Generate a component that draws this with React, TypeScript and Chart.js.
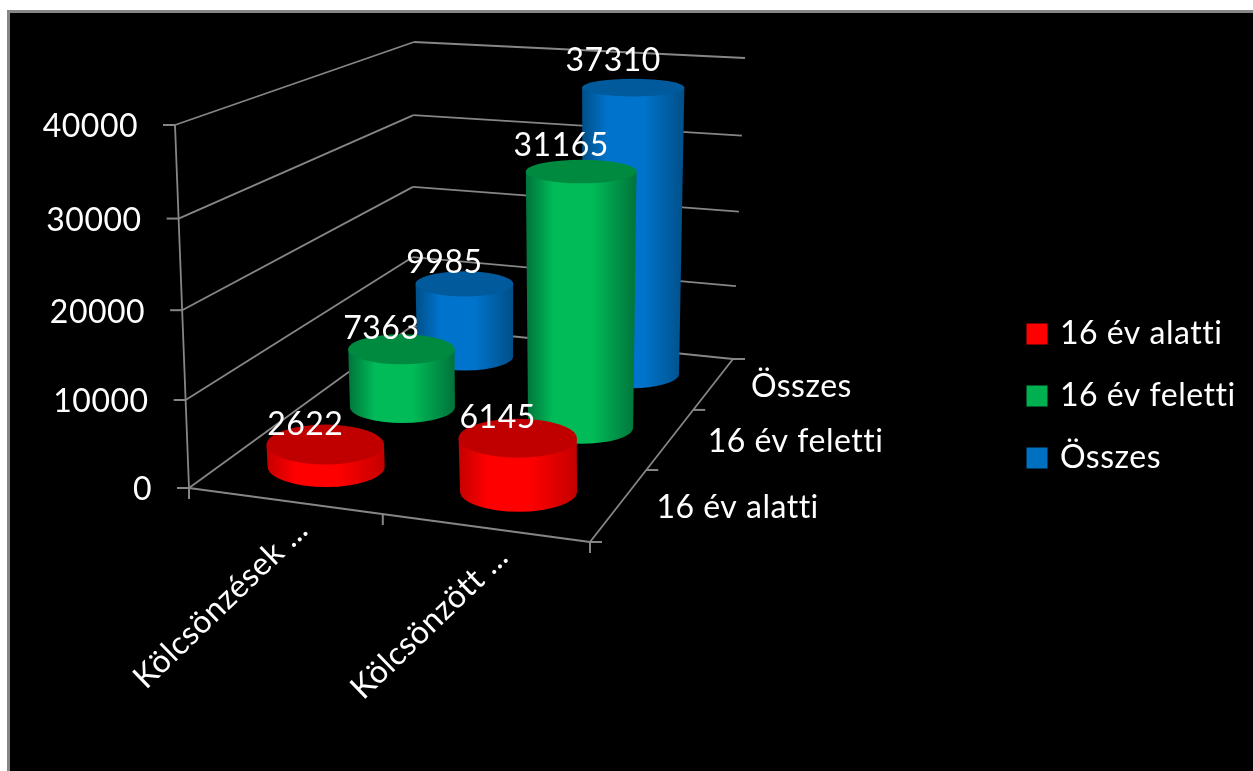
import React, { useEffect, useRef } from "react";
import { Chart, registerables, CategoryScale, LinearScale } from "chart.js";

const categories = ["Kölcsönzések ...", "Kölcsönzött ..."];
const seriesNames = ["16 év alatti", "16 év feletti", "Összes"];
const under16 = [2622, 6145];
const over16 = [7363, 31165];
const total = [9985, 37310];
const seriesValues = [under16, over16, total];
const seriesColors = ["#ff0000", "#00b050", "#0070c0"];
const valueMax = 40000;
const valueStep = 10000;

type P = { x: number; y: number };
const FONT = "Lato";
const FONT_SIZE = 32;
const LINE = "#868686";

// camera: corners of the floor and of the ceiling of the 3D box, as (across, depth)
const FLOOR: P[] = [{ x: 189, y: 488 }, { x: 590, y: 542 }, { x: 733, y: 359 }, { x: 412, y: 326 }];
const CEILING: P[] = [{ x: 175, y: 125 }, { x: 598, y: 170 }, { x: 745, y: 58 }, { x: 414, y: 42 }];
const PERSPECTIVE = -0.04;
const CYL_STYLE = [
  { rx: 58.5, ry: 20.3, dx: 0, edge: "#c40000", mid: "#ff0000", top: "#c00000" },
  { rx: 52.5, ry: 16, dx: 3, edge: "#00733a", mid: "#00bb58", top: "#008a40" },
  { rx: 48, ry: 14, dx: 3.5, edge: "#004f88", mid: "#0074cc", top: "#005a9c" },
];

function homography(q: P[]) {
  const [p0, p1, p2, p3] = q;
  const dx1 = p1.x - p2.x, dx2 = p3.x - p2.x, sx = p0.x - p1.x + p2.x - p3.x;
  const dy1 = p1.y - p2.y, dy2 = p3.y - p2.y, sy = p0.y - p1.y + p2.y - p3.y;
  const den = dx1 * dy2 - dx2 * dy1;
  const g = (sx * dy2 - dx2 * sy) / den;
  const h = (dx1 * sy - sx * dy1) / den;
  const a = p1.x - p0.x + g * p1.x, b = p3.x - p0.x + h * p3.x, c = p0.x;
  const d = p1.y - p0.y + g * p1.y, e = p3.y - p0.y + h * p3.y, f = p0.y;
  return (u: number, v: number): P => {
    const w = g * u + h * v + 1;
    return { x: (a * u + b * v + c) / w, y: (d * u + e * v + f) / w };
  };
}
const floorAt = homography(FLOOR);
const ceilingAt = homography(CEILING);
function project(u: number, v: number, f: number): P {
  const a = floorAt(u, v), b = ceilingAt(u, v);
  return { x: a.x + (b.x - a.x) * f, y: a.y + (b.y - a.y) * f };
}

class ProjectedLinearScale extends LinearScale {
  static id = "projectedLinear";
  static defaults = LinearScale.defaults;
  getPixelForValue(value: number) {
    const t = value / valueMax;
    const s = (t * (1 + PERSPECTIVE)) / (1 + PERSPECTIVE * t);
    return this.bottom - s * this.height;
  }
  heightFraction(value: number) {
    return (this.bottom - this.getPixelForValue(value)) / this.height;
  }
  _computeLabelItems(area: any) {
    const items = super._computeLabelItems(area);
    items.forEach((it: any, i: number) => {
      const f = this.heightFraction(this.ticks[i].value);
      it.options.translation = [project(0, 0, f).x - 37, it.options.translation[1] + 2];
    });
    return items;
  }
}

class ProjectedCategoryScale extends CategoryScale {
  static id = "projectedCategory";
  static defaults = CategoryScale.defaults;
  across(i: number) {
    return (this.getPixelForValue(i) - this.left) / this.width;
  }
  _computeLabelItems(area: any) {
    const items = super._computeLabelItems(area);
    items.forEach((it: any, i: number) => {
      const p = floorAt(this.across(i), 0);
      it.options.translation = [p.x + 5, p.y + 10];
    });
    return items;
  }
}

Chart.register(...registerables, ProjectedLinearScale, ProjectedCategoryScale);

function depthOf(row: number) {
  return (row + 0.5) / seriesNames.length;
}

function seg(ctx: CanvasRenderingContext2D, a: P, b: P, w = 1.8) {
  ctx.lineWidth = w;
  ctx.beginPath();
  ctx.moveTo(a.x, a.y);
  ctx.lineTo(b.x, b.y);
  ctx.stroke();
}

function drawWalls(chart: any, ctx: CanvasRenderingContext2D) {
  const y = chart.scales.y;
  ctx.strokeStyle = LINE;
  for (const t of y.ticks) {
    const f = y.heightFraction(t.value);
    const a = project(0, 0, f), b = project(0, 1, f), c = project(1, 1, f);
    seg(ctx, a, b);
    seg(ctx, b, c);
    seg(ctx, a, { x: a.x - 12, y: a.y }, 2);
  }
  seg(ctx, project(0, 0, 0), project(0, 0, 1));
  const fr = project(1, 0, 0);
  seg(ctx, project(0, 0, 0), fr, 2);
  seg(ctx, fr, project(1, 1, 0));
  for (const u of [0, 0.5, 1]) {
    const p = floorAt(u, 0);
    seg(ctx, p, { x: p.x, y: p.y + 11 }, 2);
  }
  const rows = seriesNames.length;
  for (let r = 0; r <= rows; r++) {
    const p = floorAt(1, r / rows);
    seg(ctx, p, { x: p.x + 12, y: p.y }, 2);
  }
}

function drawCylinder(ctx: CanvasRenderingContext2D, base: P, top: P, f: number, st: (typeof CYL_STYLE)[number]) {
  const rxB = st.rx, ryB = st.ry;
  const rxT = st.rx * (1 + 0.07 * f), ryT = st.ry - 5.5 * f;
  const l = Math.min(base.x - rxB, top.x - rxT), r = Math.max(base.x + rxB, top.x + rxT);
  const g = ctx.createLinearGradient(l, 0, r, 0);
  g.addColorStop(0, st.edge);
  g.addColorStop(0.25, st.mid);
  g.addColorStop(0.6, st.mid);
  g.addColorStop(1, st.edge);
  ctx.fillStyle = g;
  ctx.beginPath();
  ctx.ellipse(base.x, base.y, rxB, ryB, 0, Math.PI, 0, true);
  ctx.lineTo(top.x + rxT, top.y);
  ctx.lineTo(top.x - rxT, top.y);
  ctx.closePath();
  ctx.fill();
  ctx.fillStyle = st.top;
  ctx.beginPath();
  ctx.ellipse(top.x, top.y, rxT, ryT, 0, 0, Math.PI * 2);
  ctx.fill();
}

const scenePlugin = {
  id: "scene3d",
  beforeLayout(chart: any) {
    chart.ctx.letterSpacing = "0.5px";
  },
  beforeDraw(chart: any) {
    const { ctx, width, height } = chart;
    ctx.letterSpacing = "0.5px";
    ctx.save();
    ctx.fillStyle = "#ffffff";
    ctx.fillRect(0, 0, width, height);
    ctx.fillStyle = "#868686";
    ctx.fillRect(7, 10, width - 7, height - 10);
    ctx.fillStyle = "#000000";
    ctx.fillRect(10, 13, width - 10, height - 13);
    ctx.restore();
  },
  afterLayout(chart: any) {
    const lg = chart.legend;
    const w = lg.width, h = lg.height;
    lg.left = 1000; lg.right = 1000 + w; lg.width = w;
    lg.top = 288; lg.bottom = 288 + h; lg.height = h;
  },
  beforeDatasetsDraw(chart: any) {
    const { ctx } = chart;
    const xs = chart.scales.x, ys = chart.scales.y;
    ctx.save();
    drawWalls(chart, ctx);
    const labels: { text: string; p: P }[] = [];
    for (let r = seriesValues.length - 1; r >= 0; r--) {
      const v = depthOf(r);
      const st = CYL_STYLE[r];
      chart.data.datasets[r].data.forEach((val: number, i: number) => {
        const u = xs.across(i);
        const f = ys.heightFraction(val);
        const b0 = project(u, v, 0), t0 = project(u, v, f);
        const base = { x: b0.x + st.dx, y: b0.y }, top = { x: t0.x + st.dx, y: t0.y };
        drawCylinder(ctx, base, top, f, st);
        labels.push({ text: String(val), p: { x: top.x - 20, y: top.y - 19 - 9 * f } });
      });
    }
    ctx.fillStyle = "#ffffff";
    ctx.font = `${FONT_SIZE}px ${FONT}`;
    ctx.textAlign = "center";
    ctx.textBaseline = "middle";
    labels.forEach((l) => ctx.fillText(l.text, l.p.x, l.p.y));
    ctx.textAlign = "left";
    seriesNames.forEach((name, r) => {
      const p = floorAt(1, depthOf(r));
      ctx.fillText(name, p.x + 37, p.y + 3);
    });
    ctx.restore();
    return false;
  },
};

export default function App() {
  const ref = useRef<HTMLCanvasElement>(null);
  useEffect(() => {
    const chart = new Chart(ref.current as HTMLCanvasElement, {
      type: "bar",
      data: {
        labels: categories,
        datasets: seriesNames.map((name, i) => ({
          label: name,
          data: seriesValues[i],
          backgroundColor: seriesColors[i],
          borderWidth: 0,
        })),
      },
      plugins: [scenePlugin],
      options: {
        animation: false,
        responsive: false,
        devicePixelRatio: 1,
        layout: { padding: { left: 0, top: 125, right: 663, bottom: 0 } },
        font: { family: FONT, size: FONT_SIZE },
        plugins: {
          tooltip: { enabled: false },
          title: { display: false },
          legend: {
            position: "chartArea",
            align: "start",
            labels: {
              color: "#ffffff",
              font: { family: FONT, size: FONT_SIZE },
              usePointStyle: true,
              pointStyle: "rect",
              boxWidth: 14,
              boxHeight: 21,
              padding: 30,
            },
          },
        },
        scales: {
          x: {
            type: "projectedCategory",
            grid: { display: false },
            border: { display: false },
            ticks: {
              color: "#ffffff",
              font: { family: FONT, size: FONT_SIZE },
              minRotation: 44,
              maxRotation: 44,
              autoSkip: false,
            },
            afterFit(s: any) {
              s.height = 283;
              s.paddingLeft = 0;
              s.paddingRight = 0;
            },
          },
          y: {
            type: "projectedLinear",
            min: 0,
            max: valueMax,
            grid: { display: false },
            border: { display: false },
            ticks: {
              stepSize: valueStep,
              color: "#ffffff",
              font: { family: FONT, size: FONT_SIZE },
              padding: 25,
              callback: (v: number) => String(v),
            },
            afterFit(s: any) {
              s.width = 163;
              s.paddingTop = 0;
              s.paddingBottom = 0;
            },
          },
        },
      } as any,
    });
    return () => chart.destroy();
  }, []);
  return (
    <canvas
      ref={ref}
      width={1253}
      height={771}
      style={{ display: "block", position: "absolute", left: 0, top: 0 }}
    />
  );
}
